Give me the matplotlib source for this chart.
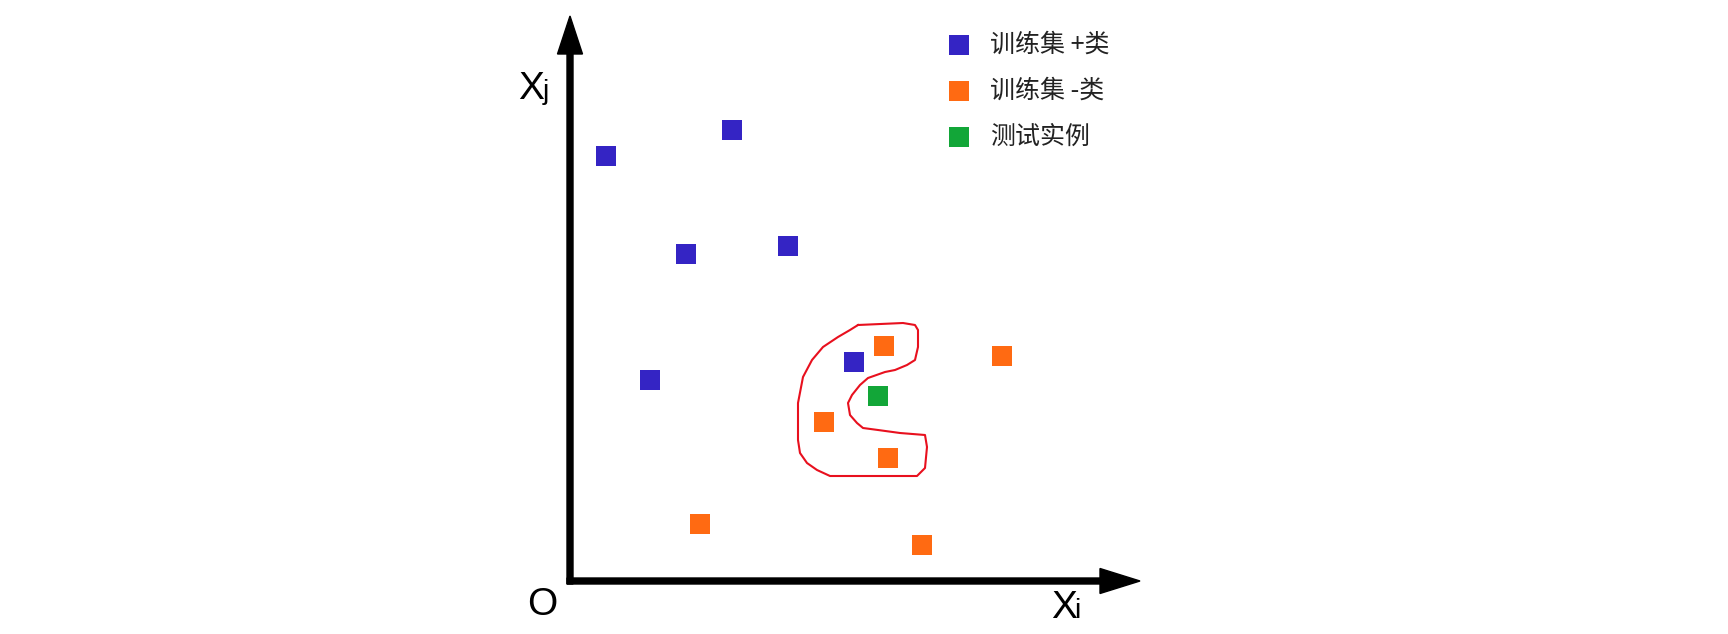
import matplotlib
matplotlib.use("Agg")
import matplotlib.pyplot as plt

# positions relative to the origin O (one unit = one pixel)
pos_x = [36, 162, 116, 218, 80, 284]
pos_y = [425, 451, 327, 335, 201, 219]
neg_x = [314, 432, 254, 318, 130, 352]
neg_y = [235, 225, 159, 123, 57, 36]
test_x = [308]
test_y = [185]

# red boundary around the neighbourhood
curve_x = [288, 333, 345, 348, 348, 345, 337, 325, 315, 298, 290, 282, 278, 280,
           287, 293, 308, 330, 355, 357, 355, 350, 347, 260, 247, 237, 230, 228,
           228, 233, 242, 253, 268, 280, 288]
curve_y = [256, 258, 256, 251, 234, 221, 216, 211, 209, 203, 196, 186, 178, 166,
           158, 153, 151, 148, 146, 134, 113, 108, 105, 105, 111, 118, 128, 141,
           178, 204, 221, 234, 244, 251, 256]

labels = ["训练集 +类", "训练集 -类", "测试实例"]
colors = ["#3424C4", "#FF6A12", "#12A638"]

fig = plt.figure(figsize=(17.28, 6.34), dpi=100)
ax = fig.add_axes([0, 0, 1, 1])
ax.set_xlim(-570, 1158)
ax.set_ylim(-53, 581)
ax.axis("off")

# axes with arrows
ax.arrow(-3, 0, 573, 0, width=6, head_width=25, head_length=40,
         length_includes_head=True, color="black")
ax.arrow(0, -3, 0, 568, width=6, head_width=25, head_length=38,
         length_includes_head=True, color="black")

ax.plot(curve_x, curve_y, color="#E8101E", lw=1.5)

ms = 14.4 ** 2
ax.scatter(pos_x, pos_y, marker="s", s=ms, color=colors[0], linewidths=0, label=labels[0], zorder=3)
ax.scatter(neg_x, neg_y, marker="s", s=ms, color=colors[1], linewidths=0, label=labels[1], zorder=3)
ax.scatter(test_x, test_y, marker="s", s=ms, color=colors[2], linewidths=0, label=labels[2], zorder=3)

leg = ax.legend(loc="upper left", bbox_to_anchor=(946 / 1728, 1 - 31.5 / 634),
                frameon=False, prop={"family": ["Noto Sans CJK SC", "DejaVu Sans"], "size": 18},
                handlelength=1.0, handletextpad=0.76, labelspacing=0.8, borderpad=0,
                borderaxespad=0, scatterpoints=1)
for t in leg.get_texts():
    t.set_color("#222222")

big = {"family": "Liberation Sans", "size": 28}
small = {"family": "Liberation Sans", "size": 20}
ax.text(-52, 482, "X", ha="left", va="baseline", **big)
ax.text(-27, 482, "j", ha="left", va="baseline", **small)
ax.text(-28, -24, "O", ha="center", va="center", **big)
ax.text(481, -37, "X", ha="left", va="baseline", **big)
ax.text(504, -37, "i", ha="left", va="baseline", **small)

fig.savefig("out.png", dpi=100)
